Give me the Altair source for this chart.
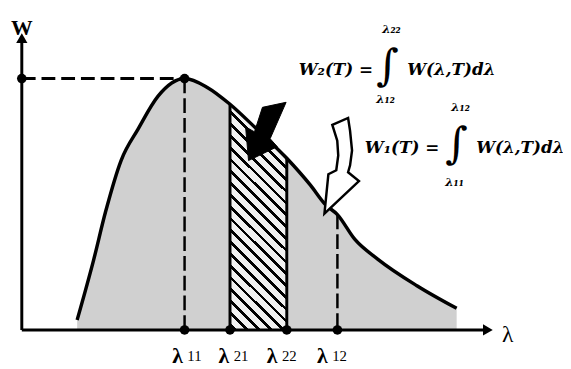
import altair as alt
import pandas as pd

# ---------------- values ----------------
curve_lam = [1.17, 1.52, 1.77, 2.10, 2.46, 2.88, 3.44, 3.92, 4.40, 4.96, 5.60,
             6.10, 6.42, 6.67, 7.04, 7.52, 8.35, 9.19]
curve_w = [0.04, 0.28, 0.47, 0.675, 0.80, 0.93, 1.00, 0.965, 0.898, 0.80, 0.683,
           0.576, 0.498, 0.459, 0.36, 0.282, 0.176, 0.086]

marker_names = ["11", "21", "22", "12"]
marker_lam = [3.44, 4.40, 5.60, 6.67]
marker_top = [1.00, 0.898, 0.683, 0.459]
marker_kind = ["dashed", "solid", "solid", "dashed"]
label_lam = [3.29, 4.27, 5.29, 6.35]   # where each tick label's λ sits

peak_w = 1.0
axis_x_end = 9.85
axis_y_end = 1.161

# ---------------- scales ----------------
X = alt.Scale(domain=[-0.29167, 11.4375], nice=False, zero=False)
Y = alt.Scale(domain=[-0.1451, 1.27059], nice=False, zero=False)


def xe(f):
    return alt.X(f, scale=X, axis=None)


def ye(f):
    return alt.Y(f, scale=Y, axis=None)


curve_df = pd.DataFrame({"lam": curve_lam, "w": curve_w})
mk_df = pd.DataFrame({"name": marker_names, "lam": marker_lam, "lx": label_lam,
                      "top": marker_top, "kind": marker_kind})

# stipple area
area = alt.Chart(curve_df).mark_area(fill="#d0d0d0", interpolate="monotone").encode(
    x=xe("lam:Q"), y=ye("w:Q"), y2=alt.datum(0))

# hatching via a striped linear gradient
bg = "#f0f0f0"
p = 0.0492
stops = []
t = 0.0
while t < 1.0:
    a = round(min(t, 1.0), 4)
    b = round(min(t + 0.68 * p, 1.0), 4)
    c = round(min(t + p, 1.0), 4)
    stops += [alt.GradientStop(color=bg, offset=a), alt.GradientStop(color=bg, offset=b),
              alt.GradientStop(color="black", offset=b), alt.GradientStop(color="black", offset=c)]
    t += p
grad = alt.LinearGradient(gradient="linear", stops=stops, x1=0.25, y1=0, x2=0, y2=1)

lam21, lam22 = marker_lam[1], marker_lam[2]
hatch = alt.Chart(curve_df).transform_filter(
    f"datum.lam >= {lam21} && datum.lam <= {lam22}"
).mark_area(fill=grad, interpolate="monotone").encode(
    x=xe("lam:Q"), y=ye("w:Q"), y2=alt.datum(0))

solid_rules = alt.Chart(mk_df).transform_filter("datum.kind == 'solid'").mark_rule(
    color="black", strokeWidth=3).encode(x=xe("lam:Q"), y=ye("top:Q"), y2=alt.datum(0))
dashed_rules = alt.Chart(mk_df).transform_filter("datum.kind == 'dashed'").mark_rule(
    color="black", strokeWidth=2.5, strokeDash=[15, 5]).encode(
    x=xe("lam:Q"), y=ye("top:Q"), y2=alt.datum(0))

peak_df = pd.DataFrame({"x0": [0.0], "x1": [marker_lam[0]], "y": [peak_w]})
hline = alt.Chart(peak_df).mark_rule(color="black", strokeWidth=3, strokeDash=[14, 6]).encode(
    x=xe("x0:Q"), x2="x1:Q", y=ye("y:Q"))

line = alt.Chart(curve_df).mark_line(color="black", strokeWidth=3.5, interpolate="monotone").encode(
    x=xe("lam:Q"), y=ye("w:Q"))

axes_df = pd.DataFrame({"x0": [0.0, 0.0], "x1": [0.0, axis_x_end],
                        "y0": [0.0, 0.0], "y1": [axis_y_end, 0.0]})
axes = alt.Chart(axes_df).mark_rule(color="black", strokeWidth=3).encode(
    x=xe("x0:Q"), x2="x1:Q", y=ye("y0:Q"), y2="y1:Q")

heads_df = pd.DataFrame({"x": [0.0, axis_x_end], "y": [axis_y_end, 0.0],
                         "shape": ["triangle-up", "triangle-right"]})
heads = alt.Chart(heads_df).mark_point(filled=True, color="black", size=130, opacity=1).encode(
    x=xe("x:Q"), y=ye("y:Q"), shape=alt.Shape("shape:N", scale=None))

dots_df = pd.DataFrame({"x": marker_lam + [marker_lam[0], 0.0],
                        "y": [0.0] * 4 + [peak_w, peak_w]})
dots = alt.Chart(dots_df).mark_circle(color="black", size=95, opacity=1).encode(
    x=xe("x:Q"), y=ye("y:Q"))

# arrows (glyph shapes)
black_arrow_path = "M-0.13,-0.83 L0.67,-1 L0.13,0.23 L0.37,0.5 L-0.6,0.97 L-0.7,-0.17 L-0.4,0 Z"
hollow_arrow_path = ("M-0.18,-0.82 L0.14,-0.96 L0.18,-0.7 L0.22,-0.3 L0.18,0 L0.14,0.14 "
                     "L0.36,0.32 L-0.34,0.98 L-0.26,0.18 L-0.1,0.1 L-0.06,-0.2 L-0.08,-0.5 Z")
barrow_df = pd.DataFrame({"x": [5.167], "y": [0.788]})
harrow_df = pd.DataFrame({"x": [6.75], "y": [0.655]})
barrow = alt.Chart(barrow_df).mark_point(shape=black_arrow_path, size=3600, filled=True,
                                         fill="black", stroke="black", strokeWidth=1,
                                         opacity=1).encode(x=xe("x:Q"), y=ye("y:Q"))
harrow = alt.Chart(harrow_df).mark_point(shape=hollow_arrow_path, size=10000, filled=True,
                                         fill="white", stroke="black", strokeWidth=2.5,
                                         opacity=1, fillOpacity=1).encode(x=xe("x:Q"), y=ye("y:Q"))

# ---------------- texts ----------------
serif = "Liberation Serif"
w_lbl = alt.Chart(pd.DataFrame({"x": [0.0], "y": [1.2], "t": ["W"]})).mark_text(
    font=serif, fontSize=22, fontWeight="bold", align="center", color="black").encode(
    x=xe("x:Q"), y=ye("y:Q"), text="t:N")
lam_lbl = alt.Chart(pd.DataFrame({"x": [10.27], "y": [-0.0196], "t": ["λ"]})).mark_text(
    font=serif, fontSize=24, align="center", color="black").encode(
    x=xe("x:Q"), y=ye("y:Q"), text="t:N")

tick_y = -0.104
tick_lam = alt.Chart(mk_df).transform_calculate(ty=str(tick_y), g="'λ'").mark_text(
    font=serif, fontSize=22, fontWeight="bold", align="center", color="black").encode(
    x=xe("lx:Q"), y=ye("ty:Q"), text="g:N")
tick_num = alt.Chart(mk_df).transform_calculate(ty=str(tick_y)).mark_text(
    font=serif, fontSize=15, align="left", dx=10, color="black").encode(
    x=xe("lx:Q"), y=ye("ty:Q"), text="name:N")

fml_font = "DejaVu Serif"
fml_df = pd.DataFrame({
    "x": [5.854, 8.146, 7.25, 9.604],
    "y": [1.0353, 1.0353, 0.7216, 0.7216],
    "t": ["W₂(T) =", "W(λ,T)dλ", "W₁(T) =", "W(λ,T)dλ"],
})
fml = alt.Chart(fml_df).mark_text(font=fml_font, fontSize=17, fontWeight="bold",
                                  fontStyle="italic", align="left", color="black").encode(
    x=xe("x:Q"), y=ye("y:Q"), text="t:N")

int_df = pd.DataFrame({"x": [7.729, 9.1875], "y": [1.045, 0.735], "t": ["∫", "∫"]})
ints = alt.Chart(int_df).mark_text(font=fml_font, fontSize=44, align="center",
                                   baseline="middle", color="black").encode(
    x=xe("x:Q"), y=ye("y:Q"), text="t:N")

lim_df = pd.DataFrame({
    "x": [7.8125, 7.6875, 9.271, 9.146],
    "y": [1.198, 0.918, 0.888, 0.590],
    "t": ["λ₂₂", "λ₁₂", "λ₁₂", "λ₁₁"],
})
lims = alt.Chart(lim_df).mark_text(font=fml_font, fontSize=12, fontWeight="bold",
                                   fontStyle="italic", align="center", baseline="middle",
                                   color="black").encode(
    x=xe("x:Q"), y=ye("y:Q"), text="t:N")

chart = alt.layer(
    area, hatch, solid_rules, dashed_rules, hline, line, axes, heads, dots,
    harrow, barrow, w_lbl, lam_lbl, tick_lam, tick_num, fml, ints, lims
).properties(
    width=563, height=361, padding=0, autosize=alt.AutoSizeParams(type="none")
).configure_view(stroke=None)

chart.save("out.html", embed_options={"renderer": "svg", "actions": False})
